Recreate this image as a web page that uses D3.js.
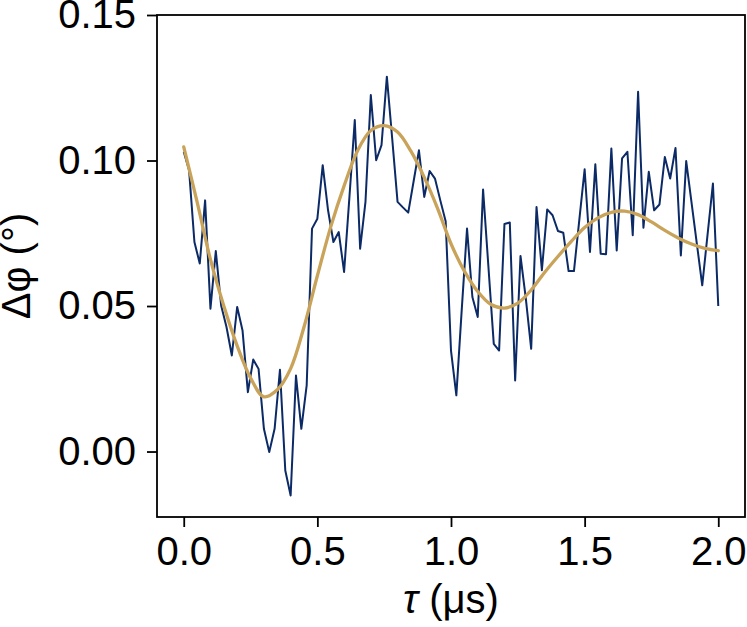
<!DOCTYPE html>
<html>
<head>
<meta charset="utf-8">
<script src="https://cdn.jsdelivr.net/npm/d3@7"></script>
<style>
  body { margin: 0; background: #fff; }
  svg { display: block; }
  .axis text { font-family: "Liberation Sans", Arial, sans-serif; font-size: 40px; fill: #000; }
  .axis line { stroke: #000; stroke-width: 1.8px; }
  .label { font-family: "Liberation Sans", Arial, sans-serif; font-size: 40px; fill: #000; }
</style>
</head>
<body>
<svg width="747" height="627"></svg>
<script>
// measured phase shift vs delay
var tau = [0.00, 0.02, 0.04, 0.06, 0.08, 0.10, 0.12, 0.14, 0.16, 0.18,
           0.20, 0.22, 0.24, 0.26, 0.28, 0.30, 0.32, 0.34, 0.36, 0.38,
           0.40, 0.42, 0.44, 0.46, 0.48, 0.50, 0.52, 0.54, 0.56, 0.58,
           0.60, 0.62, 0.64, 0.66, 0.68, 0.70, 0.72, 0.74, 0.76, 0.78,
           0.80, 0.82, 0.84, 0.86, 0.88, 0.90, 0.92, 0.94, 0.96, 0.98,
           1.00, 1.02, 1.04, 1.06, 1.08, 1.10, 1.12, 1.14, 1.16, 1.18,
           1.20, 1.22, 1.24, 1.26, 1.28, 1.30, 1.32, 1.34, 1.36, 1.38,
           1.40, 1.42, 1.44, 1.46, 1.48, 1.50, 1.52, 1.54, 1.56, 1.58,
           1.60, 1.62, 1.64, 1.66, 1.68, 1.70, 1.72, 1.74, 1.76, 1.78,
           1.80, 1.82, 1.84, 1.86, 1.88, 1.90, 1.92, 1.94, 1.96, 1.98,
           2.00];
var dphi = [0.1030, 0.0967, 0.0720, 0.0646, 0.0863, 0.0491, 0.0689, 0.0502, 0.0428, 0.0330,
            0.0497, 0.0416, 0.0204, 0.0316, 0.0284, 0.0078, -0.0002, 0.0078, 0.0281, -0.0065,
            -0.0151, 0.0261, 0.0078, 0.0227, 0.0766, 0.0800, 0.0984, 0.0829, 0.0720, 0.0754,
            0.0617, 0.0875, 0.1139, 0.0697, 0.0858, 0.1225, 0.1001, 0.1053, 0.1288, 0.1075,
            0.0858, 0.0839, 0.0821, 0.0928, 0.1035, 0.0875, 0.0964, 0.0938, 0.0863, 0.0791,
            0.0347, 0.0193, 0.0485, 0.0766, 0.0531, 0.0462, 0.0900, 0.0635, 0.0370, 0.0347,
            0.0782, 0.0787, 0.0244, 0.0672, 0.0525, 0.0353, 0.0840, 0.0623, 0.0832, 0.0812,
            0.0758, 0.0752, 0.0620, 0.0620, 0.0795, 0.0970, 0.0686, 0.0987, 0.0680, 0.0678,
            0.1041, 0.0691, 0.1007, 0.1030, 0.0743, 0.1236, 0.0769, 0.0961, 0.0829, 0.0849,
            0.1012, 0.0938, 0.1043, 0.0674, 0.0998, 0.0855, 0.0713, 0.0571, 0.0746, 0.0921,
            0.0500];

// damped oscillation fit
var fitTau = [0.00, 0.05, 0.10, 0.15, 0.20, 0.25, 0.30, 0.35, 0.40, 0.45,
              0.50, 0.55, 0.60, 0.65, 0.70, 0.75, 0.80, 0.85, 0.90, 0.95,
              1.00, 1.05, 1.10, 1.15, 1.20, 1.25, 1.30, 1.35, 1.40, 1.45,
              1.50, 1.55, 1.60, 1.65, 1.70, 1.75, 1.80, 1.85, 1.90, 1.95,
              2.00];
var fitVal = [0.1047, 0.0858, 0.0660, 0.0500, 0.0363, 0.0253, 0.0188, 0.0212, 0.0285, 0.0428,
              0.0604, 0.0772, 0.0913, 0.1033, 0.1103, 0.1120, 0.1098, 0.1032, 0.0942, 0.0835,
              0.0714, 0.0620, 0.0550, 0.0505, 0.0493, 0.0510, 0.0555, 0.0615, 0.0670, 0.0722,
              0.0770, 0.0803, 0.0822, 0.0826, 0.0814, 0.0789, 0.0760, 0.0734, 0.0713, 0.0698,
              0.0690];

var xTicks = [0.0, 0.5, 1.0, 1.5, 2.0];
var yTicks = [0.00, 0.05, 0.10, 0.15];

var plotLeft = 157, plotRight = 745, plotTop = 15, plotBottom = 517;

var svg = d3.select("svg");

var x = d3.scaleLinear().domain([-0.1, 2.1]).range([plotLeft, plotRight]);
var y = d3.scaleLinear().domain([-0.0225, 0.15]).range([plotBottom, plotTop]);

// Axes
var xAxis = svg.append("g")
    .attr("class", "axis")
    .attr("transform", "translate(0," + plotBottom + ")")
    .call(d3.axisBottom(x).tickValues(xTicks).tickFormat(d3.format(".1f")).tickSize(10).tickPadding(10));
xAxis.select(".domain").remove();

var yAxis = svg.append("g")
    .attr("class", "axis")
    .attr("transform", "translate(" + plotLeft + ",0)")
    .call(d3.axisLeft(y).tickValues(yTicks).tickFormat(d3.format(".2f")).tickSize(10).tickPadding(11));
yAxis.select(".domain").remove();

// Data
var pts = tau.map(function(t, i) { return [t, dphi[i]]; });
var fit = fitTau.map(function(t, i) { return [t, fitVal[i]]; });

var line = d3.line()
    .x(function(d) { return x(d[0]); })
    .y(function(d) { return y(d[1]); });

svg.append("path")
    .datum(pts)
    .attr("d", line)
    .attr("fill", "none")
    .attr("stroke", "#0b2a66")
    .attr("stroke-width", 2)
    .attr("stroke-linejoin", "round");

svg.append("path")
    .datum(fit)
    .attr("d", line.curve(d3.curveCatmullRom.alpha(0.5)))
    .attr("fill", "none")
    .attr("stroke", "#c9a35a")
    .attr("stroke-width", 3.3)
    .attr("stroke-linecap", "round");

// Frame
svg.append("rect")
    .attr("x", plotLeft)
    .attr("y", plotTop)
    .attr("width", plotRight - plotLeft)
    .attr("height", plotBottom - plotTop)
    .attr("fill", "none")
    .attr("stroke", "#000")
    .attr("stroke-width", 1.8);

// Axis labels
var xl = svg.append("text")
    .attr("class", "label")
    .attr("x", (plotLeft + plotRight) / 2)
    .attr("y", 613)
    .attr("text-anchor", "middle");
xl.append("tspan").style("font-style", "italic").text("τ");
xl.append("tspan").text(" (μs)");

svg.append("text")
    .attr("class", "label")
    .attr("transform", "translate(30," + ((plotTop + plotBottom) / 2) + ") rotate(-90)")
    .attr("text-anchor", "middle")
    .text("Δφ (°)");
</script>
</body>
</html>
